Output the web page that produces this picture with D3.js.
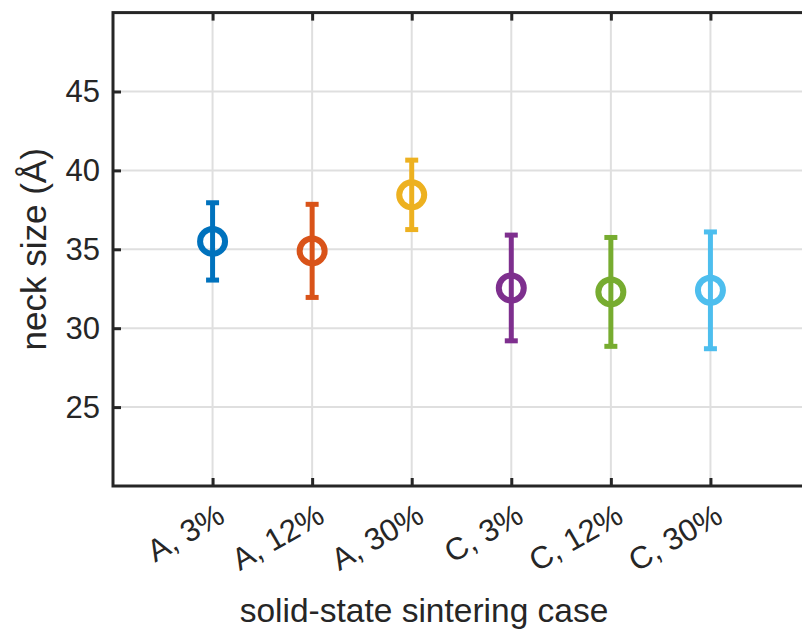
<!DOCTYPE html>
<html>
<head>
<meta charset="utf-8">
<script src="https://cdn.jsdelivr.net/npm/d3@7"></script>
<style>
  html, body { margin: 0; padding: 0; background: #fff; }
  svg { display: block; font-family: "Liberation Sans", Arial, sans-serif; }
</style>
</head>
<body>
<svg id="chart" width="802" height="637"></svg>
<script>
// Neck size per solid-state sintering case: mean with error bar half-width
const categories = ["A, 3%", "A, 12%", "A, 30%", "C, 3%", "C, 12%", "C, 30%"];
const means      = [35.5, 34.9, 38.45, 32.55, 32.3, 32.4];
const errors     = [2.45, 2.95, 2.2, 3.35, 3.45, 3.7];
const colors     = ["#0072BD", "#D95319", "#EDB120", "#7E2F8E", "#77AC30", "#4DBEEE"];
const yTicks     = [25, 30, 35, 40, 45];

const svg = d3.select("#chart");
const margin = { left: 113, top: 12.6, right: 810, bottom: 486 };
const ink = "#262626";

const x = d3.scaleLinear().domain([0, categories.length + 1]).range([margin.left, margin.right]);
const y = d3.scaleLinear().domain([20, 50]).range([margin.bottom, margin.top]);
const xIdx = d3.range(1, categories.length + 1);

// grid
const grid = svg.append("g");
grid.selectAll("line.gx").data(xIdx).join("line")
  .attr("x1", d => x(d)).attr("x2", d => x(d))
  .attr("y1", y(20)).attr("y2", y(50))
  .attr("stroke", "#dfdfdf").attr("stroke-width", 2);
grid.selectAll("line.gy").data(yTicks).join("line")
  .attr("x1", x(0)).attr("x2", x(7))
  .attr("y1", d => y(d)).attr("y2", d => y(d))
  .attr("stroke", "#dfdfdf").attr("stroke-width", 2);

// axes: ticks drawn inward on all four sides
const tickLen = 8;
const axisStyle = g => {
  g.select(".domain").remove();
  g.selectAll(".tick line").attr("stroke", ink).attr("stroke-width", 3);
};
svg.append("g").attr("transform", `translate(0,${y(20)})`)
  .call(d3.axisBottom(x).tickValues(xIdx).tickSizeInner(-tickLen).tickSizeOuter(0).tickFormat(""))
  .call(axisStyle);
svg.append("g").attr("transform", `translate(0,${y(50)})`)
  .call(d3.axisTop(x).tickValues(xIdx).tickSizeInner(-tickLen).tickSizeOuter(0).tickFormat(""))
  .call(axisStyle);
svg.append("g").attr("transform", `translate(${x(0)},0)`)
  .call(d3.axisLeft(y).tickValues(yTicks).tickSizeInner(-tickLen).tickSizeOuter(0).tickPadding(13))
  .call(axisStyle)
  .call(g => g.selectAll(".tick text")
    .attr("fill", ink).attr("font-size", 31).attr("font-family", "Liberation Sans, Arial, sans-serif"));
svg.append("g").attr("transform", `translate(${x(7)},0)`)
  .call(d3.axisRight(y).tickValues(yTicks).tickSizeInner(-tickLen).tickSizeOuter(0).tickFormat(""))
  .call(axisStyle);

// box
svg.append("rect")
  .attr("x", x(0)).attr("y", y(50))
  .attr("width", x(7) - x(0)).attr("height", y(20) - y(50))
  .attr("fill", "none").attr("stroke", ink).attr("stroke-width", 3);

// rotated category labels
svg.append("g").selectAll("text").data(categories).join("text")
  .attr("transform", (d, i) => `translate(${x(i + 1) + 3},${y(20) + 16}) rotate(-30)`)
  .attr("text-anchor", "end")
  .attr("dy", "0.72em")
  .attr("font-size", 31)
  .attr("fill", ink)
  .text(d => d);

// axis titles
svg.append("text")
  .attr("x", 424).attr("y", 622)
  .attr("text-anchor", "middle").attr("font-size", 33.5).attr("fill", ink)
  .text("solid-state sintering case");
svg.append("text")
  .attr("transform", `translate(46,${(y(20) + y(50)) / 2}) rotate(-90)`)
  .attr("text-anchor", "middle").attr("font-size", 35).attr("fill", ink)
  .text("neck size (Å)");

// error bars with open circle markers
const pts = svg.append("g").selectAll("g").data(means).join("g");
pts.append("line")
  .attr("x1", (d, i) => x(i + 1)).attr("x2", (d, i) => x(i + 1))
  .attr("y1", (d, i) => y(d + errors[i])).attr("y2", (d, i) => y(d - errors[i]))
  .attr("stroke", (d, i) => colors[i]).attr("stroke-width", 5);
[1, -1].forEach(s => {
  pts.append("line")
    .attr("x1", (d, i) => x(i + 1) - 6.5).attr("x2", (d, i) => x(i + 1) + 6.5)
    .attr("y1", (d, i) => y(d + s * errors[i])).attr("y2", (d, i) => y(d + s * errors[i]))
    .attr("stroke", (d, i) => colors[i]).attr("stroke-width", 5);
});
pts.append("circle")
  .attr("cx", (d, i) => x(i + 1)).attr("cy", d => y(d))
  .attr("r", 12.5)
  .attr("fill", "none")
  .attr("stroke", (d, i) => colors[i]).attr("stroke-width", 6);
</script>
</body>
</html>
